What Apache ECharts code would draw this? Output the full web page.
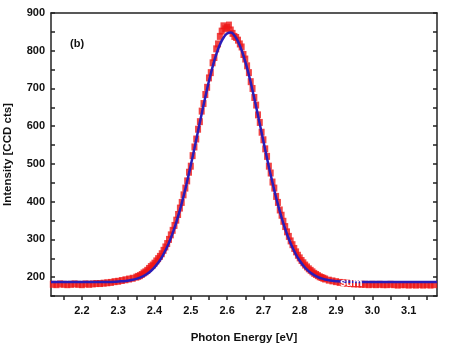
<!DOCTYPE html>
<html>
<head>
<meta charset="utf-8">
<script src="https://cdn.jsdelivr.net/npm/echarts@6/dist/echarts.min.js"></script>
<style>
html,body{margin:0;padding:0;background:#fff;}
#c{width:449px;height:344px;}
</style>
</head>
<body>
<div id="c"></div>
<script>
// Measured data (red squares)
const dataEnergy = [
2.12,2.13,2.14,2.15,2.16,2.17,2.18,2.19,2.20,2.21,2.22,2.23,2.24,2.25,2.26,2.27,2.28,2.29,2.30,2.31,2.32,2.33,2.34,
2.350,2.355,2.360,2.365,2.370,2.375,2.380,2.385,2.390,2.395,2.400,2.405,2.410,2.415,2.420,2.425,2.430,2.435,2.440,2.445,
2.450,2.455,2.460,2.465,2.470,2.475,2.480,2.485,2.490,2.495,2.500,2.505,2.510,2.515,2.520,2.525,2.530,2.535,2.540,2.545,
2.550,2.555,2.560,2.565,2.570,2.575,2.580,2.585,2.590,2.595,2.600,2.605,2.610,2.615,2.620,2.625,2.630,2.635,2.640,2.645,
2.650,2.655,2.660,2.665,2.670,2.675,2.680,2.685,2.690,2.695,2.700,2.705,2.710,2.715,2.720,2.725,2.730,2.735,2.740,2.745,
2.750,2.755,2.760,2.765,2.770,2.775,2.780,2.785,2.790,2.795,2.800,2.805,2.810,2.815,2.820,2.825,2.830,2.835,2.840,2.845,
2.850,2.855,2.860,2.865,2.870,
2.88,2.89,2.90,2.91,2.92,2.93,2.94,2.95,2.96,2.97,2.98,2.99,3.00,3.01,3.02,3.03,3.04,3.05,3.06,3.07,3.08,3.09,3.10,3.11,3.12,3.13,3.14,3.15,3.16,3.17
];
const dataIntensity = [
181,180,182,181,180,181,182,181,180,182,181,182,183,183,184,185,186,188,189,191,193,195,197,
200,202,204,207,211,214,218,223,228,232,237,243,249,255,262,271,280,289,300,312,
324,337,351,366,383,398,418,436,455,478,494,522,545,566,592,612,640,660,684,703,
728,742,768,782,805,818,838,852,866,858,862,868,855,846,838,835,828,818,810,790,
778,760,742,718,700,676,656,630,610,584,564,540,520,494,476,452,436,414,398,378,
364,348,334,320,308,296,286,276,267,258,251,244,238,232,227,222,218,214,210,207,
204,201,199,197,195,
192,190,188,186,185,184,183,182,182,181,181,180,181,180,181,180,180,181,180,179,180,180,179,180,179,180,179,180,179,180
];
// Fitted curve (blue line)
const fitEnergy = [
2.115,2.15,2.20,2.25,2.28,2.30,2.31,2.32,2.33,2.34,2.35,2.36,2.37,2.38,2.39,2.40,2.41,2.42,2.43,2.44,2.45,2.46,2.47,2.48,2.49,
2.50,2.51,2.52,2.53,2.54,2.55,2.56,2.57,2.58,2.59,2.60,2.61,2.62,2.63,2.64,2.65,2.66,2.67,2.68,2.69,2.70,2.71,2.72,2.73,2.74,
2.75,2.76,2.77,2.78,2.79,2.80,2.81,2.82,2.83,2.84,2.85,2.86,2.87,2.88,2.89,2.90,2.92,2.94,2.96,3.00,3.05,3.10,3.178
];
const fitIntensity = [
187,187,187,187,187.4,188.3,189.0,189.9,191.2,192.9,195.4,198.7,203.2,208.9,216.4,225.9,237.9,252.5,270.4,291.5,316.5,345.3,378.0,414.3,454.2,
496.9,541.4,587.3,633.0,677.6,719.6,757.4,790.0,815.9,834.5,845.5,848.0,840.5,824.4,801.2,771.2,735.3,694.8,651.1,605.7,559.8,514.5,470.9,430.0,392.1,
357.9,327.6,301.1,278.4,259.2,243.4,230.4,219.9,211.7,205.3,200.3,196.6,193.8,191.8,190.3,189.3,188.0,187.5,187.2,187,187,187,187
];
// Tick values
const xTickValues = [2.15,2.2,2.25,2.3,2.35,2.4,2.45,2.5,2.55,2.6,2.65,2.7,2.75,2.8,2.85,2.9,2.95,3.0,3.05,3.1,3.15];
const xLabelValues = [2.2,2.3,2.4,2.5,2.6,2.7,2.8,2.9,3.0,3.1];
const yTickValues = [150,200,250,300,350,400,450,500,550,600,650,700,750,800,850,900];
const yLabelValues = [200,300,400,500,600,700,800,900];

const X_MIN = 2.115, X_MAX = 3.178, Y_MIN = 150, Y_MAX = 900;
const FONT = '"Liberation Sans", Arial, sans-serif';

const chart = echarts.init(document.getElementById('c'), null, {renderer: 'canvas'});
const axisLine = {show: true, onZero: false, lineStyle: {color: '#222', width: 1.5}};
chart.setOption({
  animation: false,
  backgroundColor: '#fff',
  grid: {left: 51, right: 12, top: 13, bottom: 48, containLabel: false, outerBoundsMode: 'none'},
  xAxis: [{
    type: 'value', min: X_MIN, max: X_MAX, position: 'bottom',
    name: 'Photon Energy [eV]', nameLocation: 'middle', nameGap: 36,
    nameTextStyle: {fontFamily: FONT, fontWeight: 'bold', fontSize: 11.5, color: '#111'},
    axisLine: axisLine,
    axisTick: {show: true, inside: false, length: 4, customValues: xTickValues, lineStyle: {color: '#222', width: 1.5}},
    axisLabel: {show: true, margin: 9, customValues: xLabelValues, fontFamily: FONT, fontWeight: 'bold', fontSize: 11, color: '#111',
      formatter: v => v.toFixed(1)},
    splitLine: {show: false}
  }, {
    type: 'value', min: X_MIN, max: X_MAX, position: 'top',
    axisLine: axisLine, axisTick: {show: false}, axisLabel: {show: false}, splitLine: {show: false}
  }],
  yAxis: [{
    type: 'value', min: Y_MIN, max: Y_MAX, position: 'left',
    name: 'Intensity [CCD cts]', nameLocation: 'middle', nameGap: 37, nameRotate: 90,
    nameTextStyle: {fontFamily: FONT, fontWeight: 'bold', fontSize: 11.5, color: '#111'},
    axisLine: axisLine,
    axisTick: {show: true, inside: true, length: 4, customValues: yTickValues, lineStyle: {color: '#222', width: 1.5}},
    axisLabel: {show: true, margin: 6, customValues: yLabelValues, fontFamily: FONT, fontWeight: 'bold', fontSize: 11, color: '#111'},
    splitLine: {show: false}
  }, {
    type: 'value', min: Y_MIN, max: Y_MAX, position: 'right',
    axisLine: axisLine,
    axisTick: {show: true, inside: true, length: 4, customValues: yTickValues, lineStyle: {color: '#222', width: 1.5}},
    axisLabel: {show: false}, splitLine: {show: false}
  }],
  graphic: [
    {type: 'text', left: 70, top: 38, style: {text: '(b)', font: 'bold 11px ' + FONT, fill: '#111'}},
    {type: 'text', left: 340, top: 277, z: 100, style: {text: 'sum', font: 'bold 11px ' + FONT, fill: '#fff'}}
  ],
  series: [{
    type: 'scatter', name: 'data', xAxisIndex: 0, yAxisIndex: 0,
    symbol: 'rect', symbolSize: [6, 7],
    itemStyle: {color: '#ee1515'},
    data: dataEnergy.map((x, i) => [x, dataIntensity[i]]),
    z: 2
  }, {
    type: 'line', name: 'fit', xAxisIndex: 0, yAxisIndex: 0,
    showSymbol: false, smooth: true,
    lineStyle: {color: '#2a1cb8', width: 2.5},
    data: fitEnergy.map((x, i) => [x, fitIntensity[i]]),
    z: 3
  }]
});
</script>
</body>
</html>
